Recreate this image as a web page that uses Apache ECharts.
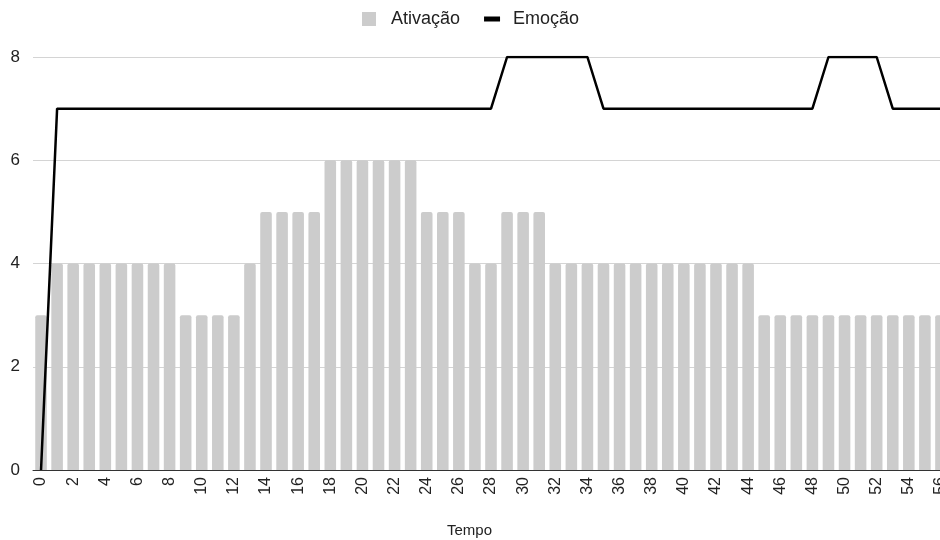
<!DOCTYPE html>
<html>
<head>
<meta charset="utf-8">
<script src="https://cdn.jsdelivr.net/npm/echarts@6/dist/echarts.min.js"></script>
<style>
html,body{margin:0;padding:0;background:#fff;width:940px;height:540px;overflow:hidden;}
#chart{width:960px;height:540px;}
</style>
</head>
<body>
<div id="chart"></div>
<script>
const categories = ['0','1','2','3','4','5','6','7','8','9','10','11','12','13','14','15','16','17','18','19','20','21','22','23','24','25','26','27','28','29','30','31','32','33','34','35','36','37','38','39','40','41','42','43','44','45','46','47','48','49','50','51','52','53','54','55','56'];
const ativacao = [3,4,4,4,4,4,4,4,4,3,3,3,3,4,5,5,5,5,6,6,6,6,6,6,5,5,5,4,4,5,5,5,4,4,4,4,4,4,4,4,4,4,4,4,4,3,3,3,3,3,3,3,3,3,3,3,3];
const emocao = [0,7,7,7,7,7,7,7,7,7,7,7,7,7,7,7,7,7,7,7,7,7,7,7,7,7,7,7,7,8,8,8,8,8,8,7,7,7,7,7,7,7,7,7,7,7,7,7,7,8,8,8,8,7,7,7,7];
const yTicks = [0,2,4,6,8];

const chart = echarts.init(document.getElementById('chart'), null, {renderer:'canvas'});
const font = 'Liberation Sans, Arial, sans-serif';
chart.setOption({
  animation:false,
  textStyle:{fontFamily:font},
  title:{text:'Tempo', left:442, top:518, padding:5, textStyle:{fontFamily:font, fontSize:15, fontWeight:'normal', color:'#222'}},
  legend:{
    top:5, left:357, padding:5, itemGap:24, itemWidth:24, itemHeight:16,
    textStyle:{fontFamily:font, fontSize:18, color:'#222'},
    data:[
      {name:'Ativação', icon:'path://M0,0 M24,16 M0,1 L14,1 L14,15 L0,15 Z'},
      {name:'Emoção', icon:'path://M0,0 M24,16 M0,5.5 L16,5.5 L16,10.5 L0,10.5 Z'}
    ]
  },
  grid:{left:33, right:11, top:57, bottom:70, containLabel:false},
  xAxis:{
    type:'category', data:categories, boundaryGap:true,
    axisLine:{lineStyle:{color:'#333', width:1}},
    axisTick:{show:false},
    axisLabel:{interval:1, rotate:90, margin:7, fontSize:16, color:'#222', fontFamily:font}
  },
  yAxis:{
    type:'value', min:yTicks[0], max:yTicks[yTicks.length-1], interval:2,
    axisLine:{show:false}, axisTick:{show:false},
    axisLabel:{fontSize:17, color:'#222', margin:13, fontFamily:font},
    splitLine:{lineStyle:{color:'#d4d4d4', width:1}}
  },
  series:[
    {name:'Ativação', type:'bar', data:ativacao, barWidth:'72%',
     itemStyle:{color:'#cccccc', borderRadius:[2,2,0,0]}},
    {name:'Emoção', type:'line', data:emocao, showSymbol:false, symbol:'none',
     lineStyle:{color:'#000', width:2.5}, itemStyle:{color:'#000'}}
  ]
});
</script>
</body>
</html>
